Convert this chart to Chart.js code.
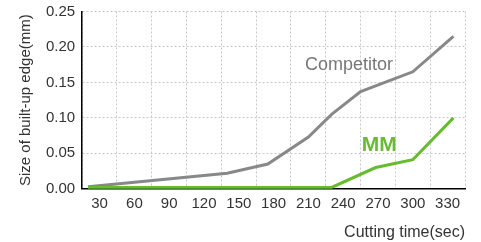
<!DOCTYPE html>
<html>
<head>
<meta charset="utf-8">
<script src="https://cdn.jsdelivr.net/npm/chart.js@4/dist/chart.umd.min.js"></script>
<style>
  body { margin: 0; background: #fff; }
  #wrap { width: 481px; height: 242px; }
</style>
</head>
<body>
<div id="wrap"><canvas id="myChart" width="481" height="242"></canvas></div>
<script>
  // tick labels on the time axis
  let timeLabels = [30, 60, 90, 120, 150, 180, 210, 240, 270, 300, 330];

  // Competitor line (time in sec, size in mm)
  let competitorTime = [20, 140, 175, 210, 230, 255, 300, 335];
  let competitorSize = [0.003, 0.022, 0.035, 0.073, 0.105, 0.137, 0.165, 0.215];

  // MM line
  let mmTime = [20, 230, 268, 300, 335];
  let mmSize = [0.002, 0.002, 0.030, 0.041, 0.100];

  let toPoints = (xs, ys) => xs.map((x, i) => ({ x: x, y: ys[i] }));

  let gridColor = '#c8c8c8';
  let fontFamily = '"Liberation Sans", Arial, sans-serif';

  // writes the series names next to the lines
  let seriesNames = {
    id: 'seriesNames',
    afterDatasetsDraw(chart) {
      let ctx = chart.ctx;
      let xs = chart.scales.x;
      let ys = chart.scales.y;
      ctx.save();
      ctx.textAlign = 'center';
      ctx.textBaseline = 'middle';
      ctx.fillStyle = '#777777';
      ctx.font = '18px ' + fontFamily;
      ctx.fillText('Competitor', xs.getPixelForValue(245), ys.getPixelForValue(0.175));
      ctx.fillStyle = '#6abb34';
      ctx.font = 'bold 21px ' + fontFamily;
      ctx.fillText('MM', xs.getPixelForValue(271), ys.getPixelForValue(0.061));
      ctx.restore();
    }
  };

  let myChart1 = document.getElementById('myChart').getContext('2d');

  let edgeChart = new Chart(myChart1, {
    type: 'line',
    data: {
      datasets: [{
        label: 'MM',
        data: toPoints(mmTime, mmSize),
        borderColor: '#66bb2e',
        borderWidth: 3,
        pointRadius: 0,
        tension: 0,
      }, {
        label: 'Competitor',
        data: toPoints(competitorTime, competitorSize),
        borderColor: '#888888',
        borderWidth: 3,
        pointRadius: 0,
        tension: 0,
      }]
    },
    options: {
      responsive: false,
      animation: false,
      layout: {
        padding: { top: 0, right: 16, left: 17, bottom: 0 }
      },
      plugins: {
        legend: { display: false },
        tooltip: { enabled: false }
      },
      scales: {
        x: {
          type: 'linear',
          min: 15,
          max: 345,
          afterBuildTicks: (axis) => {
            let ticks = [];
            for (let v = 15; v <= 345; v += 15) ticks.push({ value: v });
            axis.ticks = ticks;
          },
          ticks: {
            autoSkip: false,
            maxRotation: 0,
            padding: 6,
            color: '#333',
            font: { family: fontFamily, size: 15 },
            callback: (v) => (v % 30 === 0 && timeLabels.includes(v)) ? String(v) : ''
          },
          grid: {
            drawTicks: false,
            color: (c) => (c.tick && c.tick.value % 30 === 0) ? 'rgba(0,0,0,0)' : gridColor,
          },
          border: { display: true, color: '#000', width: 1.5, dash: [2, 2] },
          title: {
            display: true,
            text: 'Cutting time(sec)',
            align: 'end',
            color: '#333',
            font: { family: fontFamily, size: 16 },
            padding: { top: 4, bottom: 0 }
          }
        },
        y: {
          min: 0,
          max: 0.25,
          ticks: {
            stepSize: 0.05,
            padding: 7,
            color: '#333',
            font: { family: fontFamily, size: 15, lineHeight: 0.6 },
            callback: (v) => v.toFixed(2)
          },
          grid: {
            drawTicks: false,
            color: gridColor,
          },
          border: { display: true, color: '#000', width: 1.5, dash: [2, 2] },
          title: {
            display: true,
            text: 'Size of built-up edge(mm)',
            color: '#333',
            font: { family: fontFamily, size: 15 },
            padding: { top: 0, bottom: 4 }
          }
        }
      }
    },
    plugins: [seriesNames]
  });
</script>
</body>
</html>
